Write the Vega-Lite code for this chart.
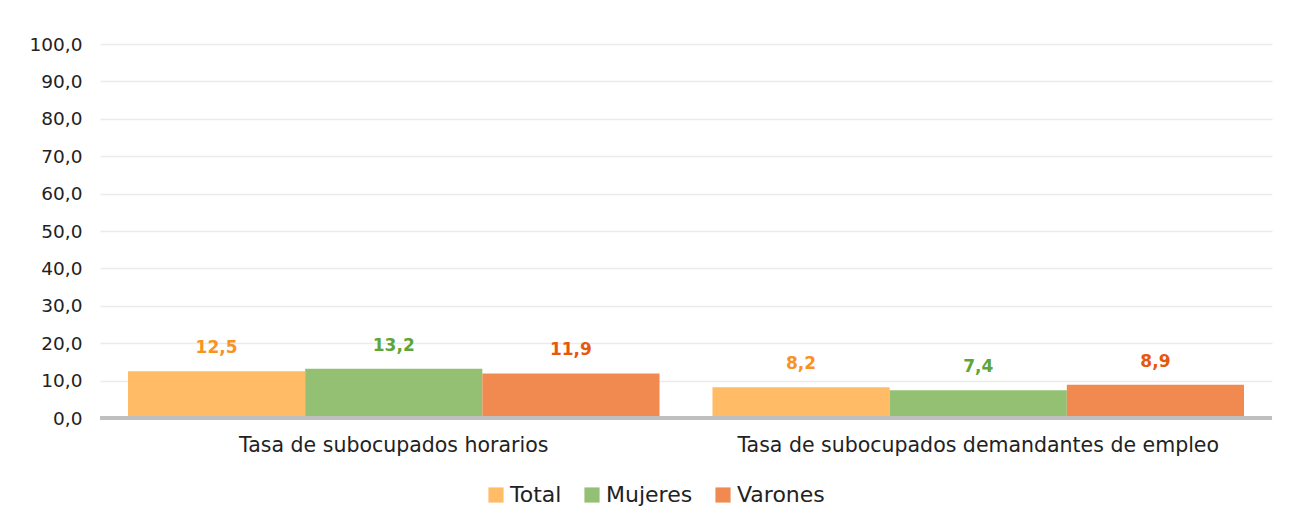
{
  "$schema": "https://vega.github.io/schema/vega-lite/v6.json",
  "width": 1172,
  "height": 374,
  "autosize": "none",
  "padding": {"left": 100, "top": 44, "right": 18, "bottom": 107},
  "background": "white",
  "data": {"values": [
    {"cat": "Tasa de subocupados horarios", "serie": "Total", "value": 12.5},
    {"cat": "Tasa de subocupados horarios", "serie": "Mujeres", "value": 13.2},
    {"cat": "Tasa de subocupados horarios", "serie": "Varones", "value": 11.9},
    {"cat": "Tasa de subocupados demandantes de empleo", "serie": "Total", "value": 8.2},
    {"cat": "Tasa de subocupados demandantes de empleo", "serie": "Mujeres", "value": 7.4},
    {"cat": "Tasa de subocupados demandantes de empleo", "serie": "Varones", "value": 8.9}
  ]},
  "encoding": {
    "x": {"field": "cat", "type": "nominal", "sort": null,
      "scale": {"paddingInner": 0.0906, "paddingOuter": 0.0479},
      "axis": {"title": null, "labelAngle": 0, "labelLimit": 0, "labelFont": "DejaVu Sans", "labelFontSize": 20.5, "labelColor": "#222222", "labelPadding": 17, "ticks": false, "domain": false, "grid": false}},
    "xOffset": {"field": "serie", "type": "nominal", "sort": ["Total", "Mujeres", "Varones"]},
    "y": {"field": "value", "type": "quantitative",
      "scale": {"domain": [0, 100], "nice": false},
      "axis": {"title": null, "values": [0,10,20,30,40,50,60,70,80,90,100], "labelExpr": "replace(format(datum.value, '.1f'), '.', ',')", "labelFont": "DejaVu Sans", "labelFontSize": 18.5, "labelColor": "#222222", "labelPadding": 18, "ticks": false, "domain": false, "grid": true, "gridColor": "#EBEBEB", "gridWidth": 1.5}}
  },
  "layer": [
    {
      "mark": {"type": "bar"},
      "encoding": {
        "color": {"field": "serie", "type": "nominal", "sort": ["Total", "Mujeres", "Varones"],
          "scale": {"domain": ["Total", "Mujeres", "Varones"], "range": ["#FFBB66", "#93C073", "#F08A50"]},
          "legend": {"title": null, "orient": "none", "direction": "horizontal", "legendX": 385, "legendY": 440, "symbolType": "square", "symbolSize": 230, "symbolStrokeWidth": 0, "labelFont": "DejaVu Sans", "labelFontSize": 22, "labelColor": "#222222", "labelOffset": 3, "columnPadding": 19}}
      }
    },
    {
      "mark": {"type": "text", "baseline": "bottom", "dy": -14, "fontWeight": "bold", "font": "DejaVu Sans", "fontSize": 17},
      "encoding": {
        "text": {"field": "value", "type": "quantitative", "format": ".1f", "formatType": "number"},
        "color": {"field": "serie", "type": "nominal",
          "scale": {"domain": ["Total", "Mujeres", "Varones"], "range": ["#F7931E", "#5EA53A", "#E8580C"]},
          "legend": null}
      }
    },
    {
      "mark": {"type": "rule", "color": "#BFBFBF", "strokeWidth": 3},
      "encoding": {"y": {"datum": 0}, "x": null, "xOffset": null}
    }
  ],
  "resolve": {"scale": {"color": "independent"}},
  "config": {"view": {"stroke": null}, "locale": {"number": {"decimal": ",", "thousands": ".", "grouping": [3], "currency": ["$", ""]}}}
}
